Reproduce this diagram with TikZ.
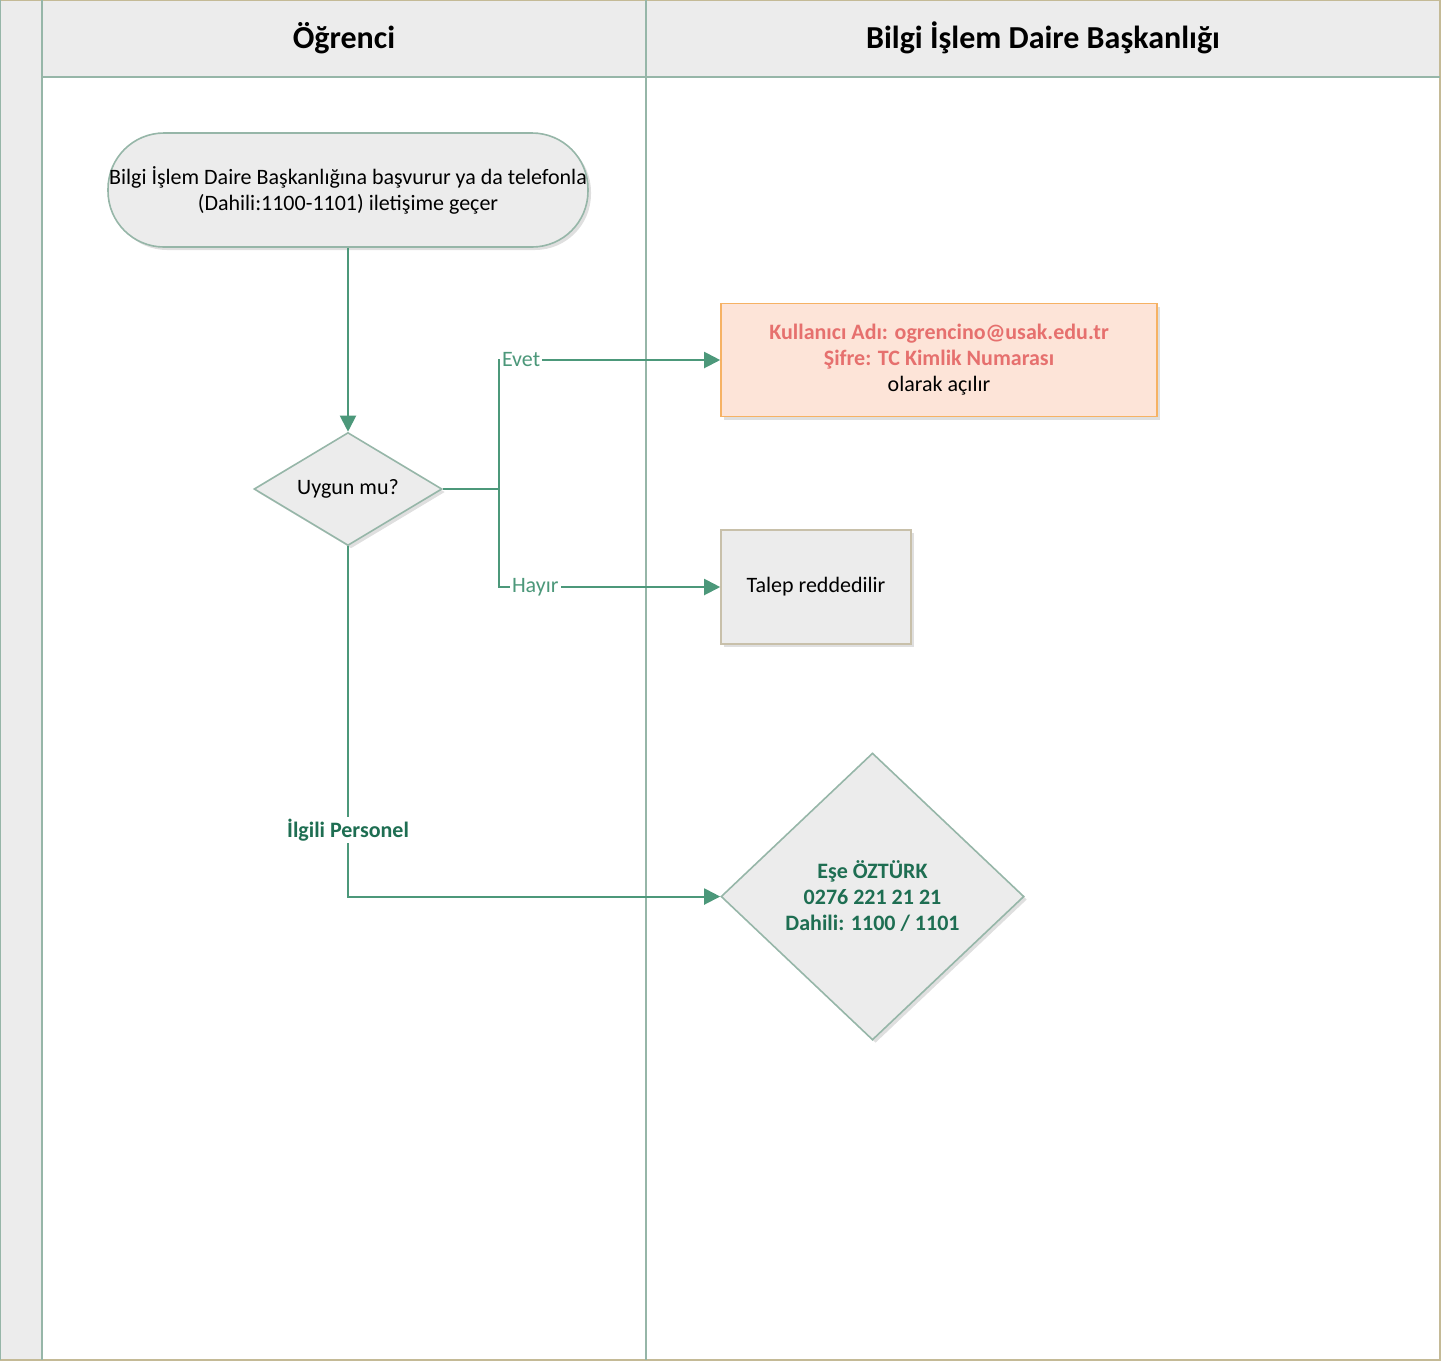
\documentclass[tikz,border=0pt]{standalone}
\usepackage{fontspec}
\setmainfont{Carlito}
\usetikzlibrary{arrows.meta, shapes.geometric, shadows}

\definecolor{laneline}{RGB}{150,182,168}
\definecolor{lanefill}{RGB}{236,236,236}
\definecolor{framecol}{RGB}{196,186,150}
\definecolor{flowcol}{RGB}{76,152,122}
\definecolor{accfill}{RGB}{253,228,216}
\definecolor{accline}{RGB}{246,178,100}
\definecolor{acctext}{RGB}{230,112,110}
\definecolor{persontext}{RGB}{30,110,82}
\definecolor{rejline}{RGB}{200,192,170}

\newcommand{\acctline}[1]{{\color{acctext}\bfseries #1}}

\tikzset{
  base/.style={font=\fontsize{11}{13}\selectfont, align=center, line width=0.8pt,
    drop shadow={shadow xshift=1.5pt, shadow yshift=-1.5pt, opacity=0.25}},
  lanehead/.style={font=\fontsize{16}{19}\selectfont\bfseries},
  startbox/.style={base, rectangle, draw=laneline, fill=lanefill, rounded corners=28pt,
    inner xsep=0pt, minimum width=240pt, minimum height=57pt},
  decide/.style={base, diamond, aspect=1.7, draw=laneline, fill=lanefill, inner sep=0pt,
    minimum width=94pt, minimum height=56.5pt},
  acctbox/.style={base, rectangle, draw=accline, fill=accfill,
    minimum width=218pt, minimum height=56.5pt},
  rejbox/.style={base, rectangle, draw=rejline, fill=lanefill,
    minimum width=95pt, minimum height=57pt},
  personbox/.style={base, diamond, draw=laneline, fill=lanefill, inner sep=0pt,
    minimum width=151.5pt, minimum height=143.5pt, text=persontext,
    font=\fontsize{11}{13}\selectfont\bfseries},
  flow/.style={draw=flowcol, line width=1pt, -{Triangle[length=8pt,width=8pt]}},
  lbl/.style={font=\fontsize{11}{13}\selectfont, text=flowcol, fill=white, inner sep=1pt},
}

\begin{document}
\begin{tikzpicture}[x=0.5pt, y=-0.5pt]
  \useasboundingbox (0,0) rectangle (1454,1362);

  % swimlanes
  \fill[lanefill] (0,0) rectangle (42,1360);
  \fill[lanefill] (42,0) rectangle (1440,77);
  \draw[framecol, line width=1pt] (0,0) rectangle (1440,1360);
  \draw[laneline, line width=1pt] (0,0) -- (0,1360);
  \draw[laneline, line width=1pt] (42,0) -- (42,1360);
  \draw[laneline, line width=1pt] (646,0) -- (646,1360);
  \draw[laneline, line width=1.2pt] (42,77) -- (1440,77);
  \node[lanehead] (hdStudent) at (344,38) {Öğrenci};
  \node[lanehead] (hdDept) at (1043,38) {Bilgi İşlem Daire Başkanlığı};

  % nodes
  \node[startbox] (apply) at (348,190)
    {Bilgi İşlem Daire Başkanlığına başvurur ya da telefonla\\(Dahili:1100-1101) iletişime geçer};
  \node[decide] (check) at (348,489) {Uygun mu?};
  \node[acctbox] (account) at (939,360)
    {\acctline{Kullanıcı Adı: ogrencino@usak.edu.tr}\\\acctline{Şifre: TC Kimlik Numarası}\\olarak açılır};
  \node[rejbox] (reject) at (816,587) {Talep reddedilir};
  \node[personbox] (person) at (872.5,896.5) {Eşe ÖZTÜRK\\0276 221 21 21\\Dahili: 1100 / 1101};
  \coordinate (split) at (499,489);

  % connectors
  \draw[flow] (apply) -- (check);
  \draw[draw=flowcol, line width=1pt] (check.east) -- (split);
  \draw[flow] (split) |- node[lbl, pos=0.5, anchor=west] {Evet} (account.west);
  \draw[flow] (split) |- node[lbl, pos=0.5, anchor=west, xshift=5pt] {Hayır} (reject.west);
  \draw[flow] (check.south) |- node[lbl, pos=0.405, text=persontext, font=\fontsize{11}{13}\selectfont\bfseries] {İlgili Personel} (person.west);
\end{tikzpicture}
\end{document}
